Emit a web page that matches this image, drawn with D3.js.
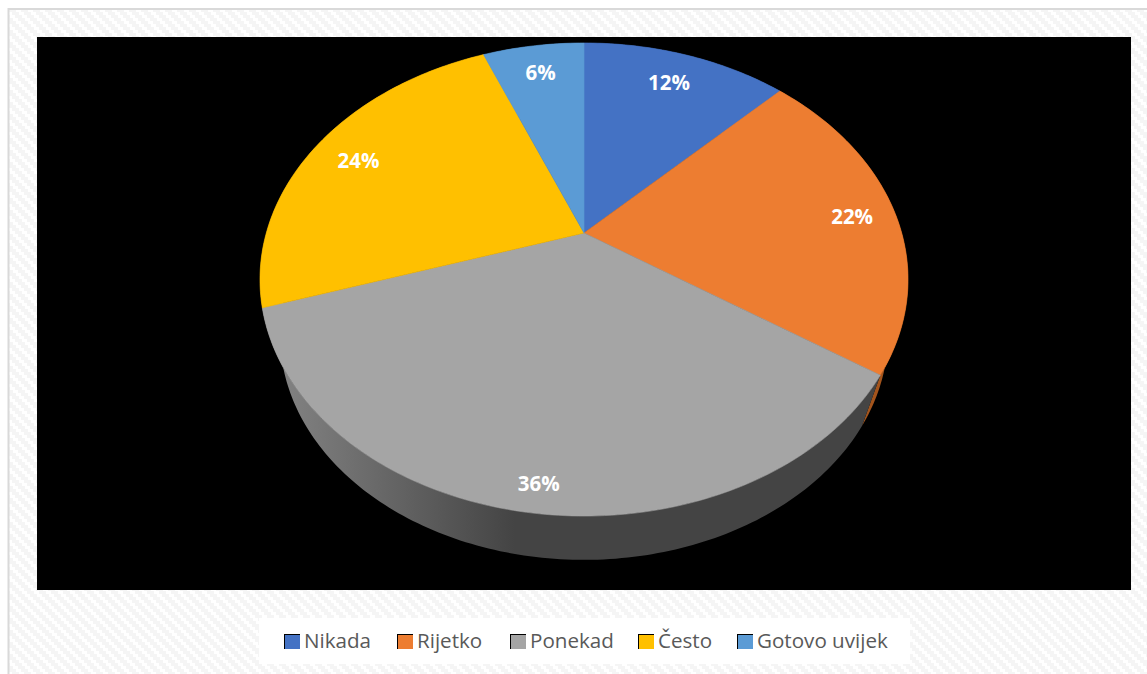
<!DOCTYPE html>
<html>
<head>
<meta charset="utf-8">
<script src="https://cdn.jsdelivr.net/npm/d3@7"></script>
<style>
html, body { margin: 0; padding: 0; background: #fff; }
svg { display: block; }
</style>
</head>
<body>
<div id="chart"></div>
<script>
// chart data
var categories = ["Nikada", "Rijetko", "Ponekad", "Često", "Gotovo uvijek"];
var values = [12.4, 22, 35.6, 23.9, 6.1];
var colors = ["#4472c4", "#ed7d31", "#a5a5a5", "#ffc000", "#5b9bd5"];
var wallColors = ["#2b4a80", "#a3541c", "#444444", "#a67c00", "#3a6a96"];

var svgWidth = 1147;
var svgHeight = 674;

var svg = d3.select("#chart")
  .append("svg")
  .attr("width", svgWidth)
  .attr("height", svgHeight);

var defs = svg.append("defs");

// woven background of the chart area
var weave = defs.append("pattern")
  .attr("id", "weave")
  .attr("patternUnits", "userSpaceOnUse")
  .attr("width", 12)
  .attr("height", 12);
weave.append("rect").attr("width", 12).attr("height", 12).attr("fill", "#ffffff");
d3.range(4).forEach(function(i) {
  weave.append("rect")
    .attr("x", i * 3)
    .attr("y", i * 3)
    .attr("width", 7)
    .attr("height", 3)
    .attr("fill", "#f5f5f5");
  weave.append("rect")
    .attr("x", i * 3 - 12)
    .attr("y", i * 3)
    .attr("width", 7)
    .attr("height", 3)
    .attr("fill", "#f5f5f5");
});

// shading on the side of the pie
var wallGrad = defs.append("linearGradient")
  .attr("id", "wallGrad")
  .attr("gradientUnits", "userSpaceOnUse")
  .attr("x1", 275).attr("x2", 515)
  .attr("y1", 0).attr("y2", 0);
wallGrad.append("stop").attr("offset", 0).attr("stop-color", "#848484");
wallGrad.append("stop").attr("offset", 1).attr("stop-color", "#444444");

svg.append("rect")
  .attr("x", 8.5).attr("y", 9)
  .attr("width", svgWidth).attr("height", svgHeight)
  .attr("fill", "url(#weave)")
  .attr("stroke", "#d9d9d9")
  .attr("stroke-width", 2);

svg.append("rect")
  .attr("x", 37).attr("y", 37)
  .attr("width", 1094).attr("height", 553)
  .attr("fill", "#000000");

// the pie is tilted, so a point on the flat disc goes through a perspective divide
var tilt = -0.1966;
var topFace = { x: 584, y: 233, rx: 317.7, ry: 227.4 };
var bottomFace = { x: 584, y: 291, rx: 298, ry: 216 };

function project(face, angle, r) {
  var u = Math.sin(angle) * r;
  var v = -Math.cos(angle) * r;
  var w = 1 + tilt * v;
  return [face.x + face.rx * u / w, face.y + face.ry * v / w];
}

function rim(face, a0, a1) {
  var n = Math.max(2, Math.ceil((a1 - a0) * 60));
  return d3.range(n + 1).map(function(i) {
    return project(face, a0 + (a1 - a0) * i / n, 1);
  });
}

var line = d3.line();
var slices = d3.pie().sort(null)(values);

// side walls first, the top face covers what is hidden
svg.append("g").selectAll("path")
  .data(slices)
  .join("path")
  .attr("d", function(d) {
    var pts = rim(topFace, d.startAngle, d.endAngle)
      .concat(rim(bottomFace, d.startAngle, d.endAngle).reverse());
    return line(pts) + "Z";
  })
  .attr("fill", function(d, i) { return i === 2 ? "url(#wallGrad)" : wallColors[i]; });

svg.append("g").selectAll("path")
  .data(slices)
  .join("path")
  .attr("d", function(d) {
    var pts = [[topFace.x, topFace.y]].concat(rim(topFace, d.startAngle, d.endAngle));
    return line(pts) + "Z";
  })
  .attr("fill", function(d, i) { return colors[i]; })
  .attr("stroke", function(d, i) { return colors[i]; })
  .attr("stroke-width", 0.6);

// data labels, two of them sit off the radial position
var labelRadius = 0.83;
var labelNudge = [[-2, 1], [10, 2], [-2, 28], [-2, 2], [0, -1]];

svg.append("g").selectAll("text")
  .data(slices)
  .join("text")
  .attr("x", function(d, i) {
    return project(topFace, (d.startAngle + d.endAngle) / 2, labelRadius)[0] + labelNudge[i][0];
  })
  .attr("y", function(d, i) {
    return project(topFace, (d.startAngle + d.endAngle) / 2, labelRadius)[1] + labelNudge[i][1];
  })
  .attr("dy", "0.36em")
  .attr("text-anchor", "middle")
  .attr("font-family", "'Open Sans', sans-serif")
  .attr("font-weight", 700)
  .attr("font-size", 20.5)
  .attr("fill", "#ffffff")
  .text(function(d) { return Math.round(d.value) + "%"; });

// legend
svg.append("rect")
  .attr("x", 259).attr("y", 618)
  .attr("width", 651).attr("height", 46)
  .attr("fill", "#ffffff");

var legendX = [284, 397, 510, 638, 737];

var legend = svg.append("g").selectAll("g")
  .data(categories)
  .join("g")
  .attr("transform", function(d, i) { return "translate(" + legendX[i] + ",634)"; });

legend.append("rect")
  .attr("width", 16).attr("height", 15)
  .attr("fill", "#000000");
legend.append("rect")
  .attr("x", 1).attr("y", 1)
  .attr("width", 15).attr("height", 14)
  .attr("fill", function(d, i) { return colors[i]; });

legend.append("text")
  .attr("x", 20)
  .attr("y", 14)
  .attr("font-family", "'Open Sans', sans-serif")
  .attr("font-size", 20.6)
  .attr("fill", "#595959")
  .text(function(d) { return d; });
</script>
</body>
</html>
